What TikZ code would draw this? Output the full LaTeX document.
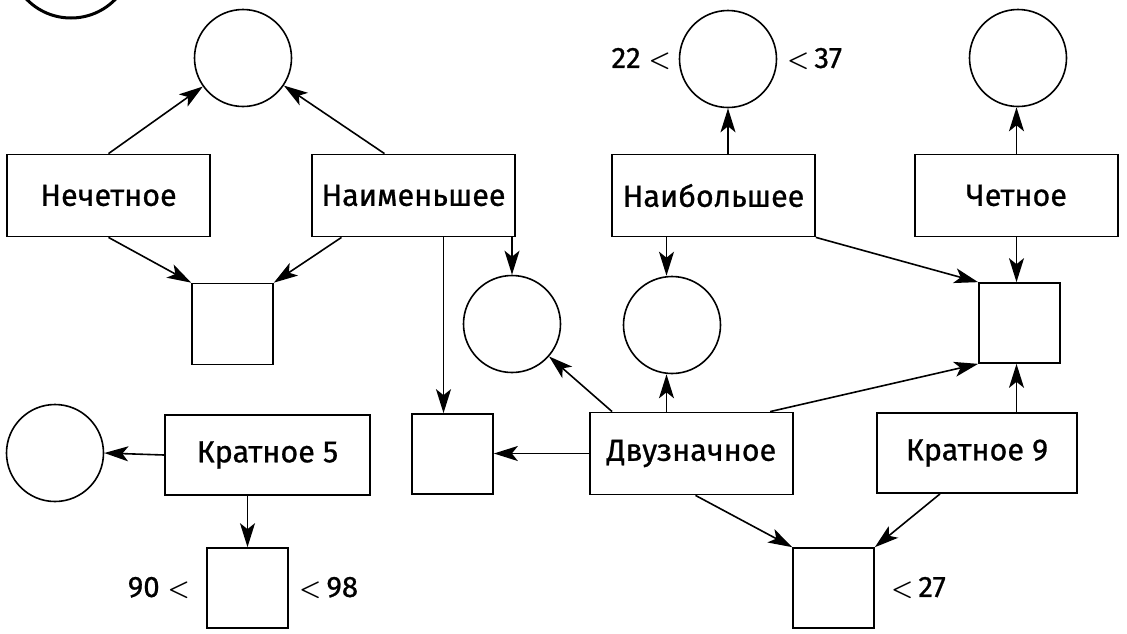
\documentclass[tikz,border=0pt]{standalone}
\usepackage{fontspec}
\setmainfont{Fira Sans}[FakeBold=0.8]
\usetikzlibrary{arrows.meta,calc}
\newcommand{\lessop}{{\fontsize{35}{35}\selectfont\boldmath$<$}}
\begin{document}
\begin{tikzpicture}[x=1pt,y=-1pt,
 box/.style={draw,line width=1.8pt,minimum width=203pt,minimum height=82pt,inner sep=0pt,font=\fontsize{30.5}{34}\selectfont},
 circ/.style={draw,circle,line width=1.6pt,minimum size=97pt,inner sep=0pt},
 sqr/.style={draw,line width=1.7pt,minimum width=81pt,minimum height=81pt,inner sep=0pt},
 lbl/.style={font=\fontsize{29.5}{32}\selectfont,inner sep=0pt},
 arr/.style={line width=1.6pt,-{Stealth[length=24pt,width=15pt,inset=6pt]}}]
\useasboundingbox (0,0) rectangle (1127,633);
\begin{scope}
\clip (0,0) rectangle (1127,633);
\node[draw,circle,line width=3pt,minimum size=124pt,inner sep=0pt] (badge) at (71,-44) {};
\end{scope}
% nodes
\node[circ] (c1) at (243,58) {};
\node[box] (nech) at (108.5,195.5) {Нечетное};
\node[box] (naim) at (413.5,195.5) {Наименьшее};
\node[sqr] (s1) at (232.5,324) {};
\node[box] (naib) at (713.5,195.5) {Наибольшее};
\node[circ] (c2) at (728,59) {};
\node[lbl,anchor=east] (l22) at (671,59) {22 \lessop};
\node[lbl,anchor=west] (l37) at (787,59) {\lessop\,37};
\node[box] (chet) at (1016.5,195.5) {Четное};
\node[circ] (c3) at (1018,58) {};
\node[circ] (c4) at (512,324) {};
\node[circ] (c5) at (672,325) {};
\node[sqr,minimum height=80pt] (s2) at (1019.5,323) {};
\node[circ] (c6) at (55,453) {};
\node[box,minimum width=205pt,minimum height=80pt] (k5) at (267.5,455) {Кратное 5};
\node[sqr,minimum height=80pt] (s3) at (452.5,454) {};
\node[box] (dvuz) at (691.5,453.5) {Двузначное};
\node[box,minimum width=200pt,minimum height=80pt] (k9) at (977,453) {Кратное 9};
\node[sqr,minimum height=80pt] (s4) at (247.5,588) {};
\node[lbl,anchor=east] (l90) at (190,588) {90 \lessop};
\node[lbl,anchor=west] (l98) at (299,588) {\lessop\,98};
\node[sqr,minimum height=80pt] (s5) at (833.5,588) {};
\node[lbl,anchor=west] (l27) at (891,588) {\lessop\,27};
% helper coordinates
\coordinate (naimA) at ($(naim.north)+(-29,0)$);
\coordinate (naimB) at ($(naim.south)+(-72,0)$);
\coordinate (naimC) at ($(naim.south)+(30,0)$);
\coordinate (naibB) at ($(naib.south)+(-47,0)$);
\coordinate (dvA) at ($(dvuz.north west)+(23,0)$);
\coordinate (dvC) at ($(dvuz.north west)+(181,0)$);
\coordinate (dvD) at ($(dvuz.south)+(4,0)$);
\coordinate (k9A) at ($(k9.south)+(-37,0)$);
% connectors
\draw[arr] (nech.north) -- (c1);
\draw[arr] (naimA) -- (c1);
\draw[arr] (nech.south) -- (s1.north west);
\draw[arr] (naimB) -- (s1.north east);
\draw[arr] (naimC) -- (naimC |- s3.north);
\draw[arr] (c4.north |- naim.south) -- (c4.north);
\draw[arr] (c2.south |- naib.north) -- (c2.south);
\draw[arr] (naibB) -- (naibB |- c5.north);
\draw[arr] (naib.south east) -- (s2.north west);
\draw[arr] (chet.north) -- (chet.north |- c3.south);
\draw[arr] (chet.south) -- (chet.south |- s2.north);
\draw[arr] (chet.south |- k9.north) -- (chet.south |- s2.south);
\draw[arr] (dvA) -- (c4);
\draw[arr] (naibB |- dvuz.north) -- (naibB |- c5.south);
\draw[arr] (dvC) -- (s2.south west);
\draw[arr] (dvuz.west) -- (dvuz.west -| s3.east);
\draw[arr] (dvD) -- (s5.north west);
\draw[arr] (k9A) -- (s5.north east);
\draw[arr] (k5.west) -- (c6.east);
\draw[arr] (s4.north |- k5.south) -- (s4.north);
\end{tikzpicture}
\end{document}
